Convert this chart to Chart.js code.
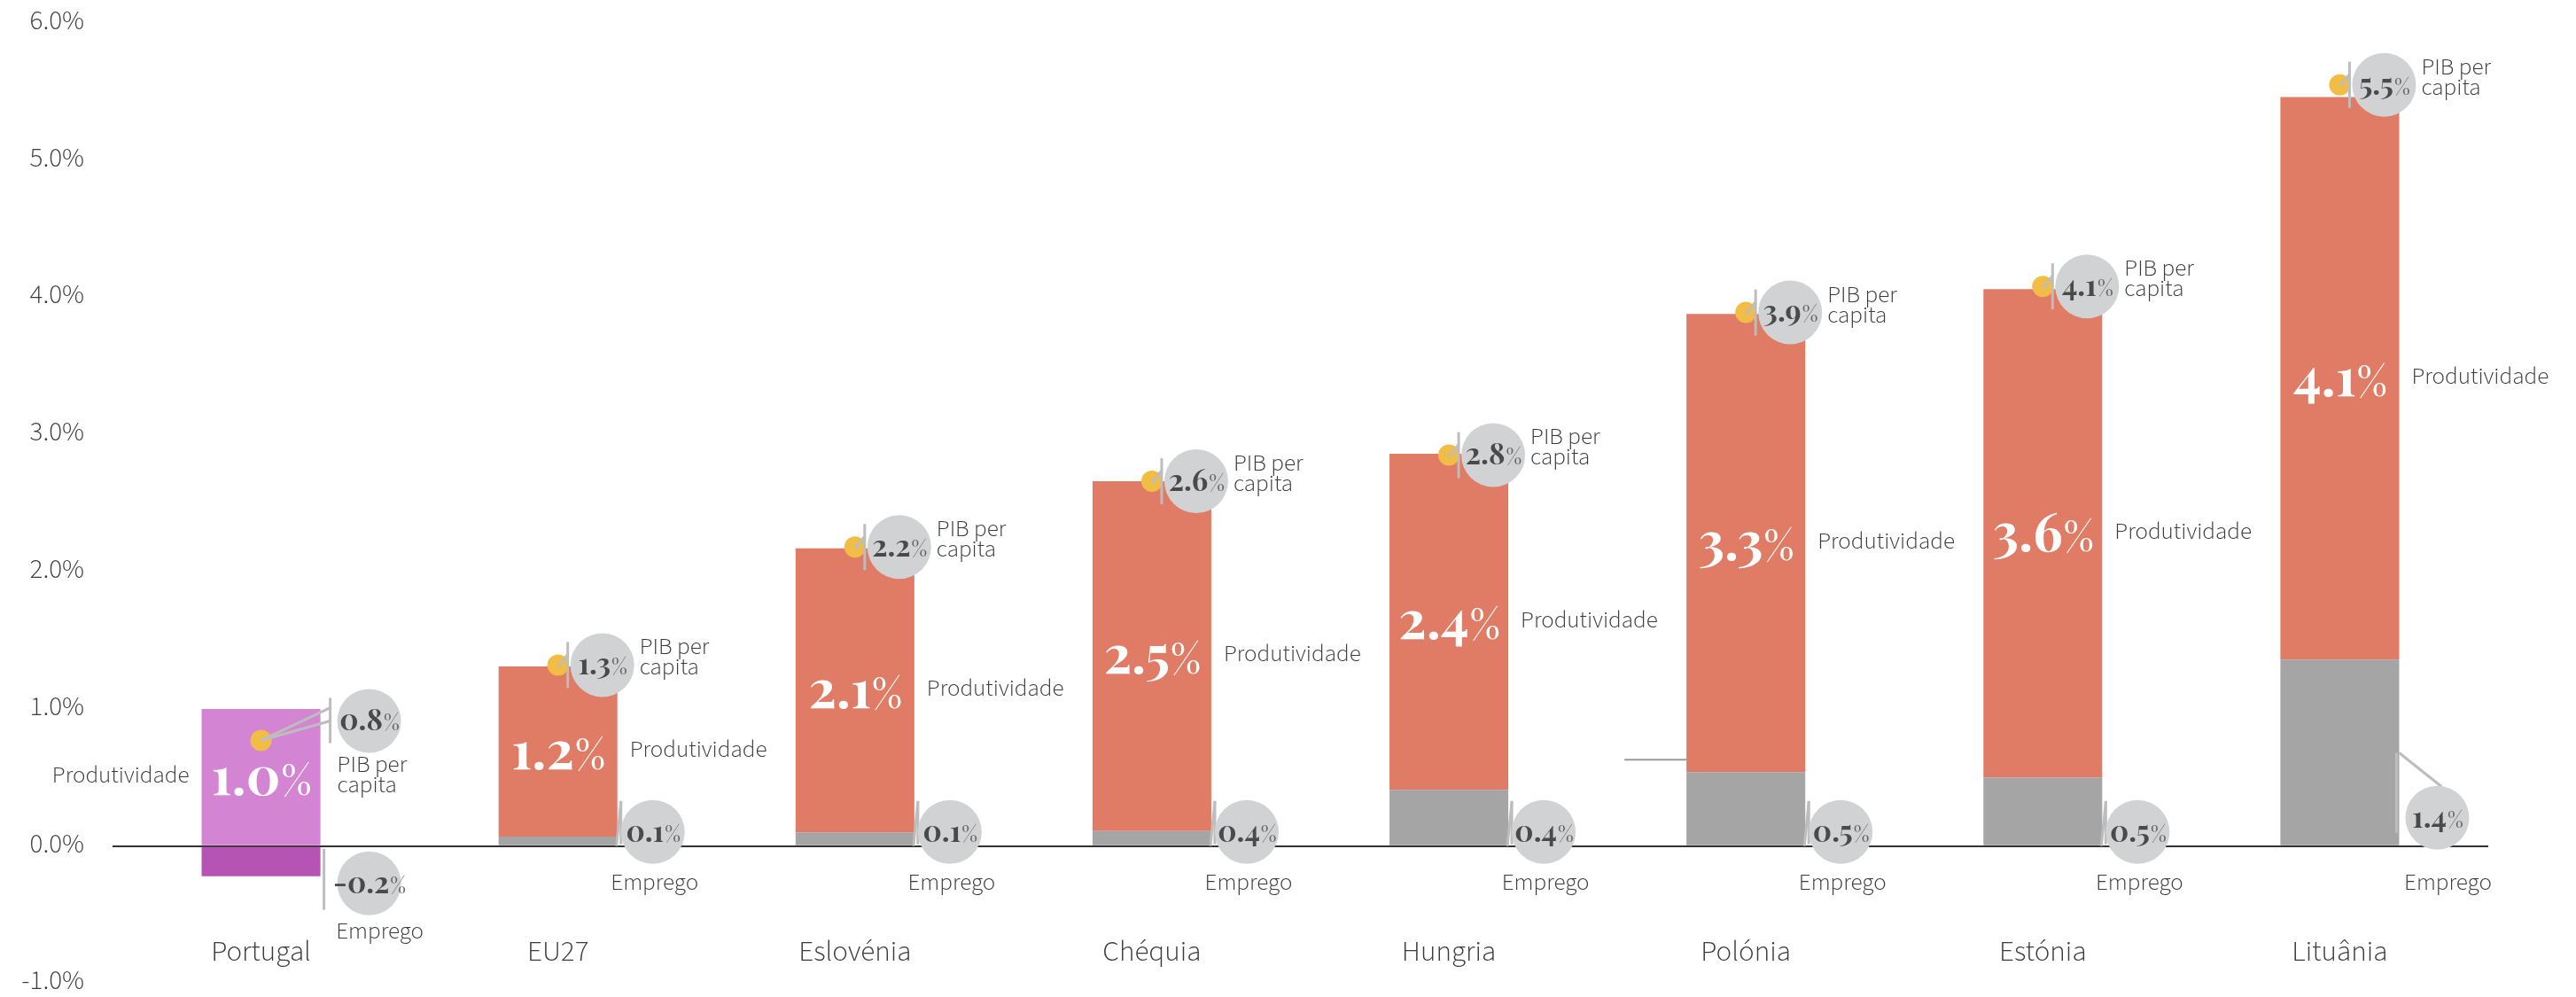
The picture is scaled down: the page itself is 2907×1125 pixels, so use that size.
<!DOCTYPE html>
<html>
<head>
<meta charset="utf-8">
<script src="https://cdn.jsdelivr.net/npm/chart.js@4.4.0/dist/chart.umd.min.js"></script>
<style>
  html, body { margin: 0; padding: 0; background: #fff; }
  canvas { display: block; }
</style>
</head>
<body>
<canvas id="myChart" width="2907" height="1125"></canvas>
<script>
const countries = ['Portugal', 'EU27', 'Eslovénia', 'Chéquia', 'Hungria', 'Polónia', 'Estónia', 'Lituânia'];
const emprego = [-0.22, 0.07, 0.1, 0.11, 0.41, 0.54, 0.5, 1.36];
const produtividade = [1.0, 1.24, 2.07, 2.55, 2.45, 3.34, 3.56, 4.1];
const pibPerCapita = [0.77, 1.32, 2.18, 2.66, 2.85, 3.89, 4.08, 5.55];
// label texts as printed in the chart
const empregoLabels = ['-0.2', '0.1', '0.1', '0.4', '0.4', '0.5', '0.5', '1.4'];
const produtividadeLabels = ['1.0', '1.2', '2.1', '2.5', '2.4', '3.3', '3.6', '4.1'];
const pibLabels = ['0.8', '1.3', '2.2', '2.6', '2.8', '3.9', '4.1', '5.5'];
const yMin = -1;
const yMax = 6;

const ORANGE = '#E07B65';
const GREY = '#A5A5A5';
const PURPLE = '#D384D3';
const PURPLE_DARK = '#B554B2';
const YELLOW = '#F2BD45';
const BUBBLE = '#D1D2D4';
const LEADER = '#BDBDBD';
const TEXT = '#3b3b3b';

const SANS = '"Source Sans Pro", "Source Sans 3", Lato, "Noto Sans", sans-serif';
const SERIF = '"Playfair Display", "Liberation Serif", "DejaVu Serif", serif';

// number in bold serif followed by a lighter, smaller %
function drawPct(ctx, num, cx, cy, size, pctSize, color, pctColor) {
    ctx.textBaseline = 'alphabetic';
    ctx.font = 'bold ' + size + 'px ' + SERIF;
    const w1 = ctx.measureText(num).width;
    ctx.font = pctSize + 'px ' + SERIF;
    const w2 = ctx.measureText('%').width;
    const startX = cx - (w1 + w2) / 2;
    const base = cy + size * 0.33;
    ctx.textAlign = 'left';
    ctx.fillStyle = color;
    ctx.font = 'bold ' + size + 'px ' + SERIF;
    ctx.fillText(num, startX, base);
    ctx.fillStyle = pctColor;
    ctx.font = pctSize + 'px ' + SERIF;
    ctx.fillText('%', startX + w1 + 1, base);
}

function line(ctx, x1, y1, x2, y2) {
    ctx.beginPath();
    ctx.moveTo(x1, y1);
    ctx.lineTo(x2, y2);
    ctx.stroke();
}

function bubble(ctx, cx, cy, text) {
    ctx.beginPath();
    ctx.arc(cx, cy, 36, 0, Math.PI * 2);
    ctx.fillStyle = BUBBLE;
    ctx.fill();
    drawPct(ctx, text, cx, cy, 33, 24, '#4a4a4a', '#666666');
}

function label(ctx, text, x, y, align, size) {
    ctx.font = '300 ' + (size || 27) + 'px ' + SANS;
    ctx.fillStyle = TEXT;
    ctx.textAlign = align;
    ctx.textBaseline = 'middle';
    ctx.fillText(text, x, y);
}

const annotations = {
    id: 'annotations',
    afterDraw(chart) {
        const ctx = chart.ctx;
        const y = chart.scales.y;
        const bars = chart.getDatasetMeta(1).data;
        const y0 = y.getPixelForValue(0);
        ctx.save();
        ctx.lineWidth = 3;
        ctx.strokeStyle = LEADER;

        countries.forEach((c, i) => {
            const bar = bars[i];
            const xc = bar.x;
            const half = bar.width / 2;
            const left = xc - half;
            const right = xc + half;
            const midY = (bar.y + bar.base) / 2;
            const yP = y.getPixelForValue(pibPerCapita[i]);
            const yE = y.getPixelForValue(emprego[i]);

            // category name under the bar
            label(ctx, c, xc, y0 + 122, 'center', 33);

            // big produtividade value inside the bar
            drawPct(ctx, produtividadeLabels[i], xc, midY, 60, 46, '#ffffff', '#ffffff');
            if (i === 0) {
                label(ctx, 'Produtividade', left - 14, midY, 'right');
            } else {
                label(ctx, 'Produtividade', right + 14, midY, 'left');
            }

            ctx.strokeStyle = LEADER;
            if (i === 0) {
                // PIB per capita bubble, text below it
                const bx = right + 55, by = yP - 22;
                line(ctx, right + 11, yP - 48, right + 11, yP + 3);
                line(ctx, xc, yP, right + 11, yP - 37);
                line(ctx, xc, yP, right + 11, yP - 22);
                bubble(ctx, bx, by, pibLabels[i]);
                label(ctx, 'PIB per', right + 19, by + 52, 'left');
                label(ctx, 'capita', right + 19, by + 75, 'left');

                // Emprego bubble
                const ex = right + 55, ey = yE + 8;
                line(ctx, right + 4, y0 + 3, right + 4, y0 + 72);
                bubble(ctx, ex, ey, empregoLabels[i]);
                label(ctx, 'Emprego', ex + 12, ey + 56, 'center');
            } else {
                const bx = xc + 50, by = yP;
                line(ctx, xc + 11, yP - 26, xc + 11, yP + 26);
                line(ctx, xc, yP + 2, xc + 11, yP - 12);
                bubble(ctx, bx, by, pibLabels[i]);
                label(ctx, 'PIB per', bx + 42, by - 18, 'left');
                label(ctx, 'capita', bx + 42, by + 5, 'left');

                if (i === countries.length - 1) {
                    const ex = right + 43, ey = y0 - 32;
                    const yHalf = y.getPixelForValue(emprego[i] / 2);
                    line(ctx, right - 3, yHalf, right - 3, y0 - 15);
                    line(ctx, right, yHalf, ex + 5, ey - 35);
                    bubble(ctx, ex, ey, empregoLabels[i]);
                    label(ctx, 'Emprego', ex + 12, y0 + 43, 'center');
                } else {
                    const ex = right + 40, ey = y0 - 16;
                    line(ctx, right + 4, y0 - 51, right + 4, y0 - 2);
                    line(ctx, right + 4, y0 - 50, right - 1, y0);
                    bubble(ctx, ex, ey, empregoLabels[i]);
                    label(ctx, 'Emprego', ex + 2, y0 + 43, 'center');
                }
            }

            // stray leader line left of Polónia
            if (c === 'Polónia') {
                ctx.strokeStyle = '#9a9a9a';
                ctx.lineWidth = 2;
                const yl = y.getPixelForValue(0.63);
                line(ctx, left - 70, yl, left, yl);
                ctx.lineWidth = 3;
            }
        });
        ctx.restore();
    }
};

const empregoColors = countries.map((c, i) => i === 0 ? PURPLE_DARK : GREY);
const produtividadeColors = countries.map((c, i) => i === 0 ? PURPLE : ORANGE);

const ctxMain = document.getElementById('myChart').getContext('2d');
const myChart = new Chart(ctxMain, {
    type: 'bar',
    data: {
        labels: countries,
        datasets: [{
            label: 'Emprego',
            data: emprego,
            backgroundColor: empregoColors,
            stack: 'pib',
            order: 1,
            barPercentage: 0.4,
            categoryPercentage: 1.0
        }, {
            label: 'Produtividade',
            data: produtividade,
            backgroundColor: produtividadeColors,
            stack: 'pib',
            order: 1,
            barPercentage: 0.4,
            categoryPercentage: 1.0
        }, {
            type: 'line',
            label: 'PIB per capita',
            data: pibPerCapita,
            showLine: false,
            stack: 'dots',
            order: 0,
            pointRadius: 12,
            pointHoverRadius: 12,
            pointBorderWidth: 0,
            pointBackgroundColor: YELLOW,
            pointBorderColor: YELLOW
        }]
    },
    options: {
        responsive: false,
        animation: false,
        devicePixelRatio: 1,
        layout: { padding: { top: 26, right: 99, bottom: 15, left: 0 } },
        plugins: {
            legend: { display: false },
            tooltip: { enabled: false }
        },
        scales: {
            x: {
                stacked: true,
                display: false
            },
            y: {
                stacked: true,
                min: yMin,
                max: yMax,
                z: 1,
                grid: {
                    drawTicks: true,
                    tickLength: 32,
                    tickColor: 'rgba(0,0,0,0)',
                    color: c => c.tick && c.tick.value === 0 ? '#333' : 'rgba(0,0,0,0)',
                    lineWidth: 2
                },
                border: { display: false },
                afterFit: function(scale) { scale.width = 127; },
                ticks: {
                    stepSize: 1,
                    padding: 0,
                    color: TEXT,
                    font: { family: SANS, size: 31, weight: '300', lineHeight: 1 },
                    callback: v => v.toFixed(1) + '%'
                }
            }
        }
    },
    plugins: [annotations]
});
</script>
</body>
</html>
